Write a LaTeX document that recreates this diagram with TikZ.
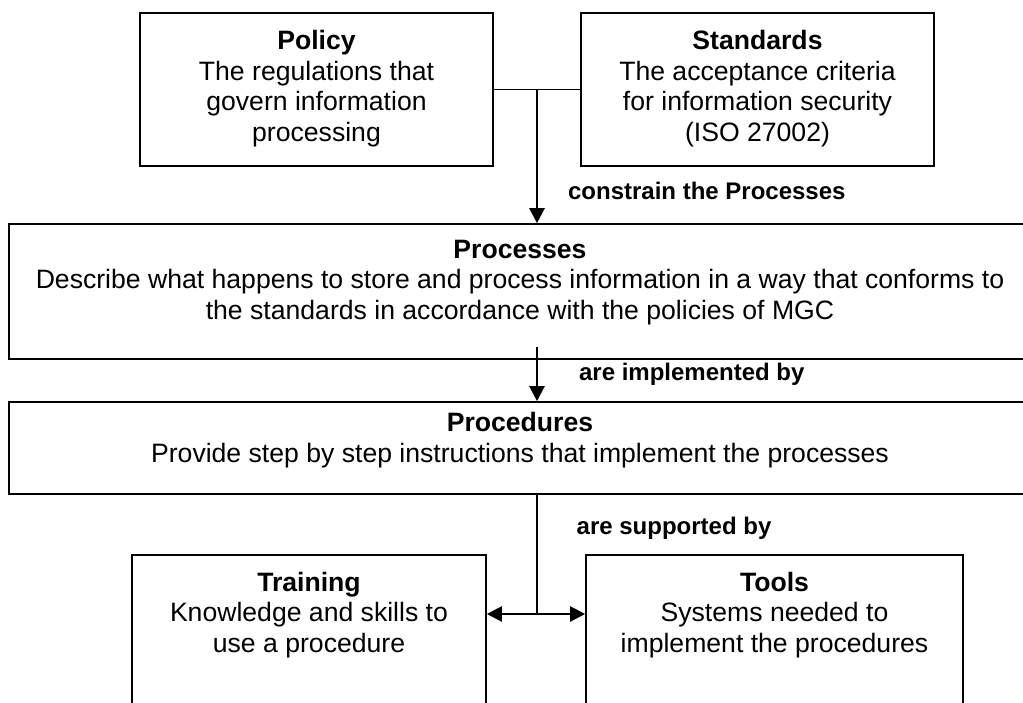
\documentclass[tikz,border=0pt]{standalone}
\usepackage{fontspec}
\setmainfont{Liberation Sans}
\usetikzlibrary{positioning,arrows.meta}

\begin{document}
\begin{tikzpicture}[x=1pt, y=-1pt, >={Triangle[length=15pt,width=15pt]},
    box/.style={draw, line width=1.6pt, inner sep=0pt},
    txt/.style={align=center, inner sep=0pt, font=\fontsize{26.6}{30.6}\selectfont},
    rel/.style={inner sep=0pt, font=\fontsize{24}{27.6}\selectfont\bfseries},
    link/.style={line width=1.4pt},
    flow/.style={->, line width=2.2pt}]

\clip (0,0) rectangle (1023,702);

% Boxes
\node[box, minimum width=353pt, minimum height=153pt] (policy) at (316.5,89.5) {};
\node[box, minimum width=353pt, minimum height=153pt] (standards) at (757.5,89.5) {};
\node[box, minimum width=1022pt, minimum height=135pt] (processes) at (520,291.5) {};
\node[box, minimum width=1022pt, minimum height=92pt] (procedures) at (520,448) {};
\node[box, minimum width=354pt, minimum height=205pt] (training) at (309,657.5) {};
\node[box, minimum width=377pt, minimum height=205pt] (tools) at (774.5,657.5) {};

% Texts
\node[txt, below=18pt of policy.north] (policytxt)
    {\textbf{Policy}\\The regulations that\\govern information\\processing};
\node[txt, below=18pt of standards.north] (standardstxt)
    {\textbf{Standards}\\The acceptance criteria\\for information security\\(ISO 27002)};
\node[txt, below=16.5pt of processes.north] (processestxt)
    {\textbf{Processes}\\Describe what happens to store and process information in a way that conforms to\\the standards in accordance with the policies of MGC};
\node[txt, below=11pt of procedures.north] (procedurestxt)
    {\textbf{Procedures}\\Provide step by step instructions that implement the processes};
\node[txt, below=17.5pt of training.north] (trainingtxt)
    {\textbf{Training}\\Knowledge and skills to\\use a procedure};
\node[txt, below=17.5pt of tools.north] (toolstxt)
    {\textbf{Tools}\\Systems needed to\\implement the procedures};

% Connectors
\coordinate (join) at (537,89.5);
\coordinate (implfrom) at (537,347);
\coordinate (fork) at (537,614);
\draw[link] (policy.east) -- (standards.west);
\draw[flow] (join) -- node[rel, right=30pt, pos=0.76] (constrain) {constrain the Processes} (join |- processes.north);
\draw[flow] (implfrom) -- node[rel, right=41pt, pos=0.51] (implemented) {are implemented by} (implfrom |- procedures.north);
\draw[link] (fork |- procedures.south) -- node[rel, right=39pt, pos=0.28] (supported) {are supported by} (fork);
\draw[<->, line width=2.2pt] (training.east |- fork) -- (tools.west |- fork);

\end{tikzpicture}
\end{document}
